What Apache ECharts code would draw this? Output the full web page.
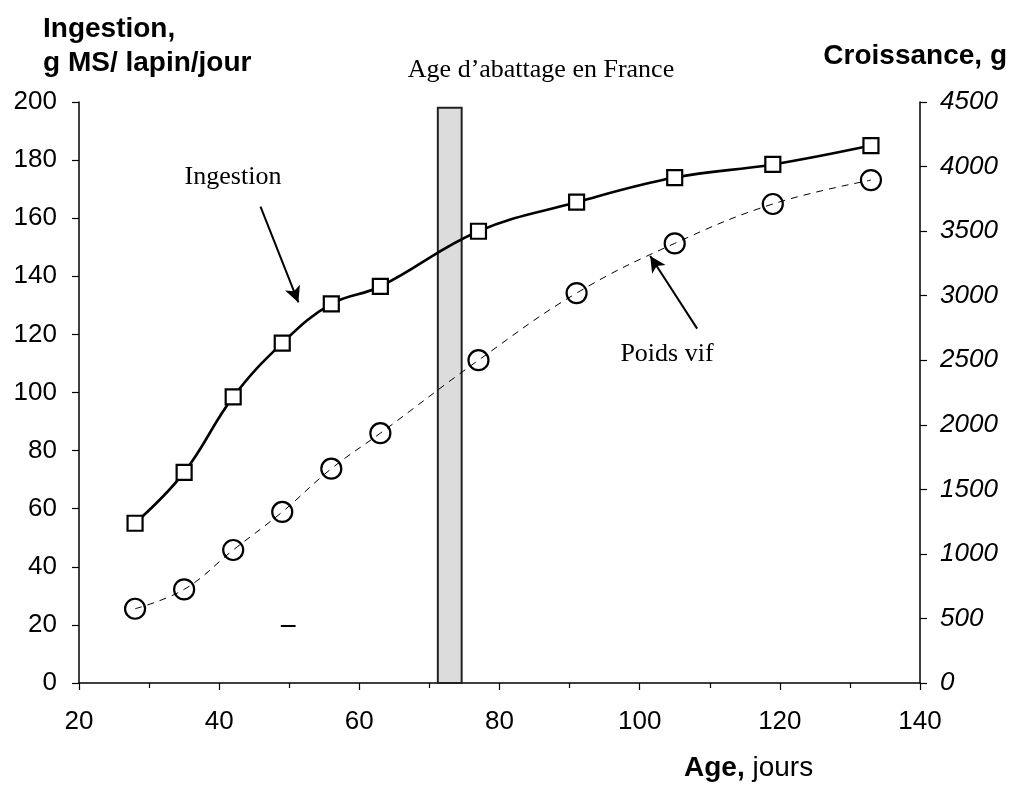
<!DOCTYPE html>
<html>
<head>
<meta charset="utf-8">
<script src="https://cdn.jsdelivr.net/npm/echarts@6/dist/echarts.min.js"></script>
<style>
  html, body { margin: 0; padding: 0; background: #fff; }
  #main { width: 1009px; height: 785px; }
</style>
</head>
<body>
<div id="main"></div>
<script>
// ages (jours) des mesures
var ages = [28, 35, 42, 49, 56, 63, 77, 91, 105, 119, 133];
// ingestion, g MS / lapin / jour (axe gauche)
var ingestion = [55, 72.5, 98.5, 117, 130.5, 136.5, 155.5, 165.5, 174, 178.5, 185];
// poids vif, g (axe droit)
var poidsVif = [575, 725, 1030, 1325, 1660, 1935, 2500, 3020, 3405, 3710, 3895];
// barre "age d'abattage" : debut, fin, hauteur (axe gauche)
var abattage = [71.2, 74.6, 198];
// fleches d'annotation [x1, y1, x2, y2] en unites des axes (gauche)
var arrowIngestion = [45.9, 164, 51.3, 131];
var arrowPoids = [108.2, 122, 101.5, 147];
var petitTrait = [48.8, 19.6, 50.9, 19.6];

var chart = echarts.init(document.getElementById('main'));

function pairs(xs, ys) {
  return xs.map(function (x, i) { return [x, ys[i]]; });
}

var axisFont = { fontFamily: 'Liberation Sans, Arial', fontSize: 26, color: '#000' };
var serif = '26px "Liberation Serif", "Times New Roman", serif';

var option = {
  animation: false,
  backgroundColor: '#fff',
  grid: { left: 79, right: 89, top: 102, bottom: 102 },
  xAxis: {
    type: 'value',
    min: 20,
    max: 140,
    interval: 20,
    axisLine: { lineStyle: { color: '#000', width: 1.5 } },
    axisTick: { inside: false, length: 7, lineStyle: { color: '#000', width: 1.2 } },
    minorTick: { show: true, splitNumber: 2, length: 5, lineStyle: { color: '#000', width: 1.2 } },
    splitLine: { show: false },
    axisLabel: Object.assign({ margin: 26 }, axisFont)
  },
  yAxis: [
    {
      type: 'value',
      min: 0,
      max: 200,
      interval: 20,
      position: 'left',
      axisLine: { show: true, lineStyle: { color: '#000', width: 1.5 } },
      axisTick: { show: true, inside: false, length: 7, lineStyle: { color: '#000', width: 1.2 } },
      splitLine: { show: false },
      axisLabel: Object.assign({ margin: 22 }, axisFont)
    },
    {
      type: 'value',
      min: 0,
      max: 4500,
      interval: 500,
      position: 'right',
      axisLine: { show: true, lineStyle: { color: '#000', width: 1.5 } },
      axisTick: { show: true, inside: false, length: 7, lineStyle: { color: '#000', width: 1.2 } },
      splitLine: { show: false },
      axisLabel: Object.assign({
        margin: 20,
        fontStyle: 'italic',
        formatter: function (v) { return String(v); }
      }, axisFont)
    }
  ],
  series: [
    {
      name: 'Ingestion',
      type: 'line',
      yAxisIndex: 0,
      data: pairs(ages, ingestion),
      smooth: 0.4,
      symbol: 'rect',
      symbolSize: 15,
      z: 3,
      lineStyle: { color: '#000', width: 2.6 },
      itemStyle: { color: '#fff', borderColor: '#000', borderWidth: 2.2 },
      markLine: {
        silent: true,
        symbol: ['none', 'arrow'],
        symbolSize: [12, 16],
        label: { show: false },
        lineStyle: { color: '#000', width: 2, type: 'solid' },
        data: [
          [{ coord: arrowIngestion.slice(0, 2) }, { coord: arrowIngestion.slice(2, 4) }],
          [{ coord: arrowPoids.slice(0, 2) }, { coord: arrowPoids.slice(2, 4) }],
          [{ coord: petitTrait.slice(0, 2), symbol: 'none' }, { coord: petitTrait.slice(2, 4), symbol: 'none' }]
        ]
      }
    },
    {
      name: 'Poids vif',
      type: 'line',
      yAxisIndex: 1,
      data: pairs(ages, poidsVif),
      smooth: 0.4,
      symbol: 'circle',
      symbolSize: 20,
      z: 3,
      lineStyle: { color: '#000', width: 1, type: [7, 6] },
      itemStyle: { color: 'rgba(255,255,255,0)', borderColor: '#000', borderWidth: 2.2 }
    },
    {
      name: 'abattage',
      type: 'line',
      yAxisIndex: 0,
      data: [],
      z: 10,
      markArea: {
        silent: true,
        itemStyle: { color: 'rgba(205,205,205,0.7)', borderColor: '#222', borderWidth: 2 },
        data: [[{ xAxis: abattage[0], yAxis: 0 }, { xAxis: abattage[1], yAxis: abattage[2] }]]
      }
    }
  ],
  graphic: [
    {
      type: 'text', left: 43, top: 12,
      style: { text: 'Ingestion,\ng MS/ lapin/jour', font: 'bold 28px "Liberation Sans", Arial', lineHeight: 34, fill: '#000' }
    },
    {
      type: 'text', right: 2, top: 42,
      style: { text: 'Croissance, g', font: 'bold 28px "Liberation Sans", Arial', fill: '#000' }
    },
    {
      type: 'text', left: 684, top: 754,
      style: {
        text: '{b|Age,} jours',
        font: '28px "Liberation Sans", Arial',
        fill: '#000',
        rich: { b: { font: 'bold 28px "Liberation Sans", Arial', fill: '#000' } }
      }
    },
    {
      type: 'text', x: 541, y: 70,
      style: { text: 'Age d\u2019abattage en France', font: serif, textAlign: 'center', textVerticalAlign: 'middle', fill: '#000' }
    },
    {
      type: 'text', x: 233, y: 177,
      style: { text: 'Ingestion', font: serif, textAlign: 'center', textVerticalAlign: 'middle', fill: '#000' }
    },
    {
      type: 'text', x: 667, y: 354,
      style: { text: 'Poids vif', font: serif, textAlign: 'center', textVerticalAlign: 'middle', fill: '#000' }
    }
  ]
};

chart.setOption(option);
</script>
</body>
</html>
